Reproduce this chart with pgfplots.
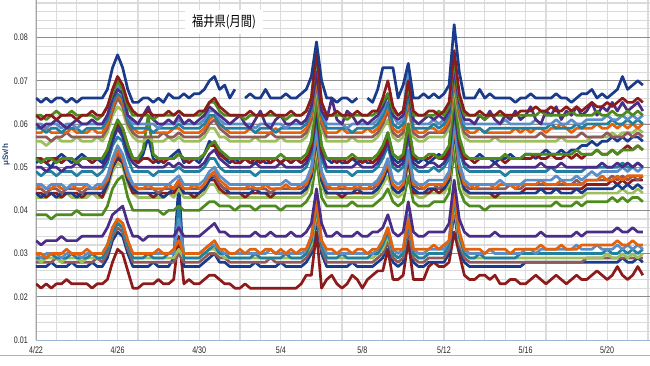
\documentclass[border=0pt]{standalone}
\usepackage{pgfplots}
\pgfplotsset{compat=1.18}
\usepackage{pgfplotstable}
\usepackage{fontspec}
\setmainfont{Liberation Sans}
\newfontfamily\tickfont[FakeStretch=0.75]{Liberation Sans}
\newfontfamily\cjk[FakeStretch=0.8]{Noto Sans CJK JP}
\definecolor{cNavy}{HTML}{1A3A8A}
\definecolor{cRed}{HTML}{8C1B1B}
\definecolor{cGreen}{HTML}{4E8B1F}
\definecolor{cPurple}{HTML}{4B2C86}
\definecolor{cSteel}{HTML}{5B8DC9}
\definecolor{cTeal}{HTML}{2180A0}
\definecolor{cOrange}{HTML}{E4620C}
\definecolor{cRose}{HTML}{8E5A5A}
\definecolor{cLgreen}{HTML}{9CBE5C}
\definecolor{cAxis}{HTML}{9DB7D8}
\definecolor{cYlab}{HTML}{2B4A6F}
% values in units of 0.001 uSv/h ; t in days from 4/22 0:00
\pgfplotstableread{
t A B C D E F G H I J K L M N O P Q R S T U V W X Y Z a b c
0 66 62 62 60 60 59 58 57 56 52 52 51 50 49 46 45 45 44 44 43 39 33 30 30 29 29 28 27 23
0.25 65 61 62 59 60 59 58 57 56 51 52 52 50 48 46 46 45 43 44 43 39 32 30 29 29 28 28 27 22
0.5 66 62 61 60 59 58 59 57 55 52 51 51 49 49 45 45 44 44 43 43 39 33 29 30 29 29 28 27 23
0.75 65 62 62 60 60 59 58 56 56 52 52 50 50 49 46 45 45 44 44 44 38 33 30 30 30 29 28 28 22
1 66 61 63 61 60 59 58 57 57 51 52 52 50 48 46 46 45 43 44 43 39 33 30 30 29 29 29 27 23
1.25 66 62 62 60 59 58 58 57 56 52 51 53 49 49 46 45 44 44 43 43 39 34 30 29 29 28 28 27 23
1.5 65 62 62 59 60 59 58 58 56 52 52 52 50 49 45 45 45 44 44 44 39 33 31 30 29 29 28 27 24
1.75 66 62 63 60 60 59 59 57 56 52 52 51 50 49 46 46 45 44 44 43 39 33 30 30 30 29 28 28 23
2 65 61 62 61 59 59 58 57 57 51 51 52 51 48 46 45 45 43 44 43 40 33 30 30 29 29 28 27 23
2.25 66 62 62 60 60 58 58 57 56 52 52 53 50 49 46 45 44 44 43 43 39 34 30 29 29 28 28 27 23
2.5 66 62 62 60 60 59 58 57 56 52 52 52 50 49 46 46 45 44 44 43 39 34 31 30 29 29 28 27 23
2.75 66 63 62 61 60 59 59 57 56 52 51 51 50 49 45 45 45 44 44 44 39 34 30 30 30 29 28 28 22
3 66 62 61 60 60 59 58 57 57 52 52 52 50 48 46 45 45 44 44 43 39 34 30 30 29 29 29 27 23
3.25 66 62 62 60 60 59 58 57 56 52 52 51 50 49 46 46 45 44 43 43 39 34 30 30 29 29 28 27 23
3.5 68 64 64 62 62 61 60 59 58 54 54 53 52 51 48 47 47 46 46 45 41 36 32 32 31 31 30 29 24
3.75 73 68 67 66 66 65 64 63 62 58 58 57 56 55 52 51 51 50 50 49 45 39 36 36 35 35 34 33 28
4 76 71 70 68 69 67 67 66 64 61 60 60 59 57 55 54 53 53 52 51 47 40 38 38 37 37 36 35 31
4.25 73 69 68 67 67 66 65 64 63 59 59 58 57 56 53 52 52 51 51 50 48 41 37 37 36 36 35 34 30
4.5 68 65 64 62 62 61 61 60 59 55 55 54 53 52 49 48 48 47 47 46 43 37 33 33 32 32 31 30 26
4.75 65 63 62 61 60 59 59 58 57 52 52 52 51 49 46 46 46 45 44 44 40 34 30 30 29 29 28 27 22
5 65 62 62 60 60 59 58 57 56 52 51 51 50 49 46 45 45 44 44 43 40 34 30 30 29 29 28 27 22
5.25 66 62 62 62 60 59 58 57 56 54 52 53 50 49 46 45 45 44 44 43 40 33 30 30 29 29 28 27 23
5.5 66 63 62 64 60 59 59 57 57 62 52 57 50 49 46 46 45 44 44 43 40 34 30 30 30 29 28 27 23
5.75 65 62 61 61 60 58 58 57 56 53 51 52 50 48 46 45 45 44 43 43 40 34 30 30 29 29 28 28 23
6 66 62 62 60 59 59 58 57 56 52 52 51 50 49 46 45 44 44 44 43 40 34 31 30 29 29 28 27 24
6.25 65 62 62 60 60 59 58 58 56 52 51 52 50 49 46 45 45 43 44 43 39 34 30 30 29 29 28 27 23
6.5 67 63 62 61 60 59 58 57 57 52 52 52 51 49 46 46 45 44 44 44 40 34 30 30 30 29 28 27 23
6.75 66 62 62 60 60 59 59 57 56 52 52 53 50 49 47 45 45 45 44 43 40 34 31 30 30 29 28 29 24
7 66 63 63 62 61 60 59 58 57 53 53 54 51 50 48 47 46 47 46 45 41 36 33 38 41 31 30 46 34
7.25 67 62 62 60 60 59 58 57 56 52 52 51 50 49 46 45 45 44 44 43 40 34 30 30 29 29 28 27 23
7.5 66 62 62 61 60 59 58 57 56 52 51 52 50 49 46 45 45 44 44 43 40 34 30 30 29 29 28 27 24
7.75 67 62 62 60 60 59 58 57 56 52 52 52 50 49 46 46 45 44 43 43 40 34 30 30 29 29 28 27 23
8 67 63 62 61 60 59 58 57 56 52 52 51 50 49 46 45 45 44 44 43 40 34 30 30 29 29 28 27 23
8.25 68 63 63 62 61 60 59 58 57 53 53 53 51 50 47 46 46 45 45 44 41 35 31 31 30 30 29 28 24
8.5 70 65 65 64 63 62 61 60 59 55 55 56 53 52 49 48 48 47 47 46 42 36 32 32 31 31 30 29 25
8.75 71 66 65 63 63 62 62 61 59 56 55 55 54 52 50 49 48 48 47 46 42 37 33 32 32 31 30 30 25
9 68 64 63 62 61 60 60 59 57 54 53 54 52 50 48 47 46 46 45 44 41 35 31 31 30 30 29 28 24
9.25 69 63 62 61 60 59 59 58 57 53 52 52 51 49 47 46 45 45 44 44 41 35 31 30 30 29 29 28 23
9.5 66 62 62 60 60 59 58 57 56 52 52 51 50 49 46 45 45 44 44 43 41 34 30 30 29 29 28 27 23
9.75 68 62 62 61 60 59 58 57 56 52 51 52 50 49 46 45 45 44 44 43 40 34 30 30 29 29 28 27 22
10 nan 62 62 62 60 59 58 57 56 52 51 51 50 49 46 45 45 44 44 43 41 34 31 30 29 29 28 27 22
10.25 66 62 61 60 60 59 58 57 56 52 52 52 50 49 46 45 45 44 43 43 41 34 30 30 29 29 28 27 23
10.5 67 63 62 59 60 59 59 57 56 52 51 51 50 49 46 46 45 44 44 43 41 34 31 30 29 29 28 27 22
10.75 66 62 62 61 59 58 58 57 57 52 52 51 51 48 46 45 45 45 44 43 40 35 31 30 30 29 28 28 22
11 66 62 62 63 60 59 58 57 56 52 51 52 50 49 46 45 45 44 44 43 41 34 30 30 29 29 28 27 22
11.25 68 62 62 60 60 59 58 57 56 52 52 51 50 49 46 46 45 44 44 43 41 34 31 30 29 29 28 27 22
11.5 66 63 62 59 60 59 58 58 56 52 51 51 50 49 46 45 44 44 43 43 41 35 31 31 29 29 29 27 22
11.75 66 62 62 61 60 58 59 57 56 52 52 52 50 49 46 45 45 44 44 43 41 34 30 30 29 29 28 27 22
12 66 62 62 62 60 59 58 57 57 53 51 51 51 49 46 45 45 44 44 43 40 34 31 30 29 29 28 28 22
12.25 67 62 61 60 59 59 58 57 56 52 52 52 50 49 47 46 45 44 44 43 41 34 30 30 30 29 28 27 22
12.5 66 63 62 60 60 59 58 57 56 52 51 51 50 49 46 45 45 44 44 43 41 35 31 30 29 29 28 27 22
12.75 66 62 62 61 60 59 58 57 56 52 52 52 50 49 46 45 45 44 44 43 41 34 30 30 29 29 28 27 22
13 67 62 62 60 60 59 58 57 56 52 51 51 50 49 46 46 45 44 44 43 41 34 31 30 29 29 28 27 23
13.25 68 63 63 61 61 60 59 58 57 53 52 52 51 50 47 46 46 45 45 44 42 35 31 31 30 30 29 28 25
13.5 71 66 66 64 64 63 62 61 60 56 55 55 54 53 50 49 49 48 48 47 44 37 34 34 33 32 31 30 25
13.75 79 77 76 72 73 72 71 70 69 66 65 64 63 62 59 58 58 57 57 55 52 45 42 43 41 40 39 38 35
14 70 65 65 63 63 62 61 60 59 55 54 54 53 52 49 48 48 47 47 46 43 37 33 33 32 32 31 30 22
14.25 66 62 62 61 60 59 58 57 56 52 52 52 50 49 46 46 45 44 44 43 41 34 31 30 29 29 28 27 24
14.5 66 62 62 66 60 59 58 57 56 52 52 51 50 49 46 45 45 44 44 43 41 34 31 30 29 29 28 27 25
14.75 65 63 62 61 60 59 58 57 56 52 51 52 50 49 46 45 45 44 44 43 41 35 30 30 29 29 28 27 23
15 66 62 62 60 60 59 59 57 56 52 52 51 50 49 46 46 45 44 43 43 41 34 31 30 30 29 28 27 22
15.25 66 62 61 63 59 59 58 57 56 52 51 51 50 49 46 45 45 44 44 43 41 34 31 30 29 29 28 27 23
15.5 65 62 62 62 60 58 58 57 57 53 52 52 50 48 46 45 45 44 44 43 42 34 30 30 29 29 28 28 25
15.75 66 63 62 60 60 59 58 57 56 52 52 51 51 49 46 46 45 45 44 43 41 35 31 30 29 29 28 27 24
16 nan 62 62 61 60 59 58 57 56 52 51 52 50 49 46 45 45 44 44 43 41 34 31 30 29 29 28 27 22
16.25 66 62 62 60 60 59 59 57 56 52 52 51 50 49 46 45 45 44 44 43 41 34 30 30 29 29 28 27 24
16.5 65 63 62 61 60 59 58 57 56 52 51 51 50 49 46 46 45 44 44 43 41 35 31 30 30 29 28 27 25
16.75 68 63 63 62 61 60 59 58 57 53 52 52 51 50 47 46 46 45 45 44 42 35 31 31 30 30 29 28 26
17 73 66 65 64 63 62 61 60 59 55 54 54 53 52 49 48 48 47 47 46 43 36 33 33 32 31 30 29 26
17.25 73 70 67 67 67 65 64 63 61 58 57 58 56 55 52 51 51 50 50 48 45 39 36 36 35 34 33 33 31
17.5 73 64 63 62 62 60 59 58 57 53 53 52 51 50 47 46 46 45 45 44 42 35 31 31 30 30 29 28 24
17.75 66 62 62 61 60 59 58 57 56 52 52 51 50 49 46 45 45 44 44 43 41 34 31 30 29 29 28 27 24
18 69 63 63 62 61 60 59 58 57 53 52 52 51 50 47 46 46 45 45 44 42 35 31 31 30 30 29 28 25
18.25 74 70 69 68 74 67 66 65 64 60 60 60 58 57 54 54 53 53 52 51 48 42 38 39 37 37 36 36 33
18.5 66 63 62 61 61 59 59 58 57 53 52 52 51 50 47 46 46 45 44 44 42 35 31 31 30 30 29 28 24
18.75 66 62 62 60 60 59 58 57 56 52 52 51 50 49 46 46 45 44 44 43 41 34 31 30 29 29 28 27 24
19 67 62 62 61 60 59 58 57 56 52 52 52 50 49 46 45 45 44 44 43 41 34 31 30 29 29 28 27 24
19.25 66 63 62 62 60 59 59 58 57 53 52 51 51 49 47 46 46 45 44 44 41 35 31 31 30 30 29 28 27
19.5 67 63 62 61 61 60 59 58 57 53 53 52 51 50 47 46 46 45 45 44 42 35 32 31 30 30 29 28 28
19.75 66 62 63 62 60 59 58 58 57 52 52 53 50 49 47 46 45 45 44 44 42 35 31 31 30 30 29 28 27
20 67 63 62 61 61 60 59 58 57 53 52 52 51 50 47 46 46 45 45 44 42 35 32 31 30 30 29 28 27
20.25 69 65 64 63 63 62 61 60 59 55 54 54 53 52 49 48 48 47 47 46 44 37 33 33 32 32 31 30 28
20.5 83 77 75 73 74 72 71 70 69 67 67 66 64 63 61 60 60 59 59 57 54 47 44 45 43 42 41 40 35
20.75 72 67 66 65 65 64 63 62 61 57 56 56 55 54 51 50 50 49 49 48 45 38 35 35 34 33 32 31 30
21 66 63 62 61 60 59 59 58 57 53 52 52 51 50 47 46 46 45 45 44 42 35 31 31 30 30 29 28 25
21.25 66 62 62 61 60 59 58 57 56 52 52 52 50 49 46 46 45 44 44 43 41 34 31 30 29 29 28 27 24
21.5 66 62 62 60 60 59 58 57 56 52 51 52 50 49 46 45 45 44 44 43 41 34 31 30 29 29 28 27 24
21.75 68 63 62 62 60 59 59 57 56 52 52 53 50 49 46 46 45 44 44 43 41 34 31 30 30 29 28 27 25
22 66 62 61 61 60 58 58 57 56 52 52 52 50 49 46 46 45 44 44 43 40 34 30 30 29 29 28 27 25
22.25 67 62 62 63 60 59 58 57 56 52 52 52 50 49 46 46 45 44 44 43 41 34 31 31 29 29 28 27 24
22.5 66 62 62 61 60 59 58 57 57 52 52 51 51 49 46 45 45 44 43 43 41 35 31 30 29 29 28 27 25
22.75 66 63 62 60 60 59 58 57 56 52 52 52 50 49 47 46 45 44 44 43 41 34 31 30 29 29 28 27 23
23 66 62 62 62 61 59 58 57 56 53 51 52 50 48 46 46 45 44 44 43 41 34 31 30 29 29 28 27 23
23.25 66 62 62 61 60 59 58 57 56 52 52 53 50 49 46 46 46 44 44 43 41 34 30 30 29 29 28 27 24
23.5 65 62 62 63 60 59 59 57 56 52 52 52 50 49 46 45 45 44 44 43 41 34 31 30 29 29 28 27 24
23.75 66 63 62 61 60 59 58 57 56 52 52 52 50 49 46 46 45 44 44 43 41 34 31 30 30 29 28 27 23
24 66 63 62 62 60 59 59 57 56 53 52 53 50 49 47 46 46 44 45 43 41 34 31 31 30 29 28 28 23
24.25 67 63 62 64 60 59 58 57 56 53 52 53 50 49 47 46 46 44 45 43 41 34 31 31 30 29 28 28 24
24.5 66 64 62 61 61 59 59 57 56 53 53 52 50 49 47 46 46 44 45 43 41 34 31 30 30 29 28 28 25
24.75 66 63 63 60 60 59 59 58 56 53 52 53 51 49 47 47 46 45 45 43 41 35 32 31 30 29 28 28 24
25 66 63 62 63 60 59 58 57 56 53 52 54 50 49 47 46 46 44 45 43 41 34 31 31 30 29 28 28 23
25.25 66 64 62 62 60 60 59 57 56 53 53 53 50 50 47 46 46 44 45 43 41 34 31 31 30 29 28 28 24
25.5 67 63 62 64 61 59 59 57 56 53 52 53 50 49 48 46 46 45 45 43 42 34 31 31 30 29 28 28 25
25.75 66 63 62 61 60 59 60 57 57 53 52 54 51 49 47 47 46 44 45 43 41 34 32 31 30 29 28 28 24
26 66 64 62 63 60 59 59 57 56 53 53 53 50 49 47 46 46 44 45 43 41 34 31 31 30 29 28 28 23
26.25 65 63 63 62 61 59 58 57 56 53 52 54 50 49 47 46 46 44 45 43 41 34 31 31 30 29 28 28 24
26.5 66 64 62 64 60 60 59 57 56 54 53 54 50 49 48 46 47 45 45 43 42 35 31 32 30 29 28 28 25
26.75 67 63 62 62 60 59 59 58 56 53 52 55 50 49 47 46 46 44 45 43 41 34 32 31 30 29 28 28 24
27 67 64 62 63 61 60 59 57 56 53 53 55 50 50 48 47 47 45 46 44 42 35 32 31 30 29 29 28 24
27.25 68 65 62 65 61 60 59 57 57 53 53 56 50 50 49 47 47 45 46 44 42 35 32 31 30 29 29 28 25
27.5 66 64 63 62 61 60 60 57 57 54 54 55 50 50 48 47 47 45 46 44 42 35 32 32 30 29 29 28 26
27.75 67 64 62 64 61 60 59 57 57 53 53 56 51 50 49 48 47 45 46 44 42 35 32 31 30 29 29 28 25
28 66 65 62 63 62 60 59 58 57 53 53 56 50 50 49 47 47 45 46 44 42 35 32 31 31 30 29 28 24
28.25 67 64 63 65 61 61 60 57 58 54 54 57 50 50 49 47 48 45 47 44 43 35 32 31 30 29 29 28 25
28.5 68 65 62 63 61 60 59 57 57 53 53 56 51 50 49 48 47 46 46 44 42 36 33 32 30 29 29 28 27
28.75 71 66 62 65 62 60 60 57 58 54 54 57 50 51 50 47 48 45 47 45 43 35 32 31 31 30 29 29 25
29 68 65 63 63 61 61 59 58 58 54 55 56 51 50 49 48 47 46 46 44 42 35 32 32 30 29 29 28 24
29.25 69 65 62 64 62 60 60 57 58 54 54 57 50 50 50 48 48 45 47 44 43 36 33 31 31 30 29 28 25
29.5 70 66 63 65 61 61 59 58 59 55 55 57 51 51 49 48 47 46 47 45 43 35 32 32 30 29 29 29 27
29.75 69 65 62 63 62 60 60 57 58 54 54 56 50 50 50 48 48 45 47 44 42 35 32 31 31 30 29 28 25
}\data

\begin{document}
\begin{tikzpicture}
\path[use as bounding box] (-36pt,-26pt) rectangle (614pt,340pt);
\fill[white] (-36pt,-26pt) rectangle (614pt,340pt);
\draw[black!30, line width=0.8pt] (-36pt,-15pt) -- (614pt,-15pt);
\begin{axis}[
  at={(0pt,0pt)}, anchor=south west,
  scale only axis, width=614pt, height=340pt,
  xmin=0, xmax=30.1, ymin=10, ymax=88.7,
  axis x line*=bottom, axis y line*=left,
  x axis line style={draw=cAxis, line width=0.9pt, -},
  y axis line style={draw=black!35, line width=0.8pt, -},
  xtick={0,4,...,28},
  xticklabels={4/22,4/26,4/30,5/4,5/8,5/12,5/16,5/20},
  minor xtick={0,1,...,30},
  ytick={10,20,...,80},
  yticklabels={0.01,0.02,0.03,0.04,0.05,0.06,0.07,0.08},
  minor ytick={12,14,...,88},
  xmajorgrids=false, xminorgrids=true, ymajorgrids=true, yminorgrids=true,
  major grid style={draw=black!45, line width=0.8pt},
  minor grid style={draw=black!14, line width=1.1pt},
  major tick length=0pt, minor tick length=0pt,
  tick label style={font=\tickfont\fontsize{9.5}{10}\selectfont, text=black!85},
  xticklabel style={anchor=north, inner sep=0pt, yshift=-6pt},
  yticklabel style={anchor=east, inner sep=0pt, xshift=-8pt},
  every axis plot/.append style={line width=2.7pt, line join=round, mark=none},
  unbounded coords=jump,
]
\addplot[cRed] table[x=t,y=c]{\data};
\addplot[cNavy] table[x=t,y=b]{\data};
\addplot[cRose] table[x=t,y=a]{\data};
\addplot[cLgreen] table[x=t,y=Z]{\data};
\addplot[cTeal] table[x=t,y=Y]{\data};
\addplot[cSteel] table[x=t,y=X]{\data};
\addplot[cOrange] table[x=t,y=W]{\data};
\addplot[cPurple] table[x=t,y=V]{\data};
\addplot[cGreen] table[x=t,y=U]{\data};
\addplot[cLgreen] table[x=t,y=T]{\data};
\addplot[cRed] table[x=t,y=S]{\data};
\addplot[cNavy] table[x=t,y=R]{\data};
\addplot[cRose] table[x=t,y=Q]{\data};
\addplot[cOrange] table[x=t,y=P]{\data};
\addplot[cSteel] table[x=t,y=O]{\data};
\addplot[cTeal] table[x=t,y=N]{\data};
\addplot[cPurple] table[x=t,y=M]{\data};
\addplot[cNavy] table[x=t,y=L]{\data};
\addplot[cRed] table[x=t,y=K]{\data};
\addplot[cGreen] table[x=t,y=J]{\data};
\addplot[cLgreen] table[x=t,y=I]{\data};
\addplot[cRose] table[x=t,y=H]{\data};
\addplot[cOrange] table[x=t,y=G]{\data};
\addplot[cTeal] table[x=t,y=F]{\data};
\addplot[cSteel] table[x=t,y=E]{\data};
\addplot[cPurple] table[x=t,y=D]{\data};
\addplot[cGreen] table[x=t,y=C]{\data};
\addplot[cRed] table[x=t,y=B]{\data};
\addplot[cNavy] table[x=t,y=A]{\data};
\end{axis}
\node[fill=white, inner xsep=7pt, inner ysep=5pt, font=\cjk\fontsize{14}{16}\selectfont, text=black] at (188pt,318pt) {福井県(月間)};
\node[rotate=90, font=\bfseries\fontsize{8}{9}\selectfont, text=cYlab] at (-30pt,185pt) {μSv/h};
\end{tikzpicture}
\end{document}
